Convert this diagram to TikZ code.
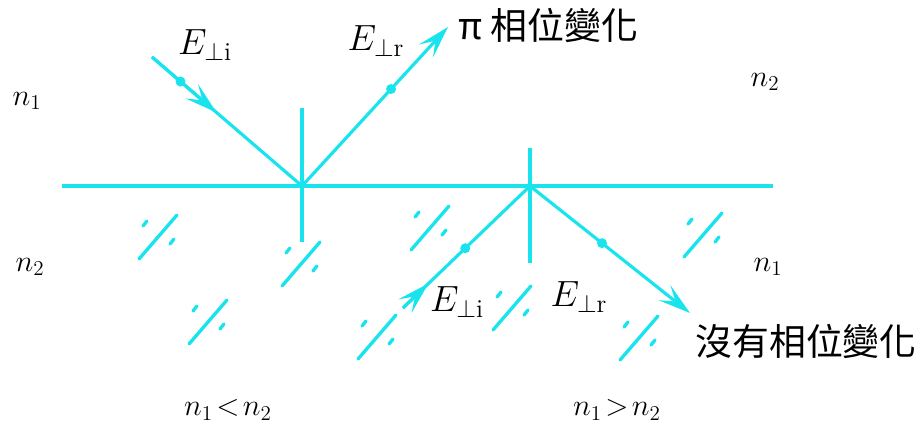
\documentclass[tikz,border=0pt]{standalone}
\usepackage{fontspec}
\newfontfamily\cjk{Noto Sans CJK TC}
\usetikzlibrary{arrows.meta, calc}
\definecolor{beam}{RGB}{25,228,238}

\begin{document}
\begin{tikzpicture}[
    x=0.02cm, y=-0.02cm,
    line/.style={draw=beam, line width=1.8pt},
    ray/.style={line, -{Stealth[length=6.5mm, width=3.8mm, inset=2.8mm]}},
    dot/.style={circle, fill=beam, inner sep=0pt, minimum size=2mm},
    glass/.style={draw=beam, line width=1.9pt, line cap=round},
    medium/.style={font=\fontsize{18.5}{20}\selectfont},
    field/.style={font=\fontsize{21}{24}\selectfont},
    note/.style={font=\cjk\fontsize{21}{24}\selectfont}
]
\useasboundingbox (0,0) rectangle (922,430);

% -------------------------
% 1. Interface and normals
% -------------------------
\coordinate (SurfL) at (62,186);
\coordinate (SurfR) at (773,186);
\coordinate (O1) at (302,186);
\coordinate (O2) at (530,186);
\coordinate (N1top) at (302,108); \coordinate (N1bot) at (302,242);
\coordinate (N2top) at (530,148); \coordinate (N2bot) at (530,263);
\draw[line] (SurfL) -- (SurfR);
\draw[line] (N1top) -- (N1bot);
\draw[line] (N2top) -- (N2bot);

% -------------------------
% 2. Glass marks (denser medium)
% -------------------------
\foreach \gx/\gy in {158/237, 301/264, 208/322, 430/228, 377/337, 512/308, 703/235, 639/338} {
    \draw[glass] (\gx-19,\gy+22) -- (\gx+19,\gy-22);
    \draw[glass] (\gx-15,\gy-11) -- (\gx-11,\gy-16);
    \draw[glass] (\gx+12,\gy+7) -- (\gx+16,\gy+2);
}

% -------------------------
% 3. Left case: n1 < n2
% -------------------------
\coordinate (A1) at (152,57);
\coordinate (B1) at (448,27);
\coordinate (I1tip) at ($(A1)!0.43!(O1)$);
\draw[line] (A1) -- (O1);
\draw[ray] (A1) -- (I1tip);
\node[dot] (Dot1) at ($(A1)!0.19!(O1)$) {};
\draw[ray] (O1) -- (B1);
\node[dot] (Dot2) at ($(O1)!0.61!(B1)$) {};

\node[field] (Ei1) at (205,45) {$E_{\perp\mathrm{i}}$};
\node[field] (Er1) at (376,41) {$E_{\perp\mathrm{r}}$};
\node[note] (Phase) at (548,25) {π 相位變化};

% -------------------------
% 4. Right case: n1 > n2
% -------------------------
\coordinate (A2) at (403,308);
\coordinate (B2) at (690,313);
\coordinate (I2tip) at ($(A2)!0.2!(O2)$);
\draw[line] (A2) -- (O2);
\draw[ray] (A2) -- (I2tip);
\node[dot] (Dot3) at ($(A2)!0.49!(O2)$) {};
\draw[ray] (O2) -- (B2);
\node[dot] (Dot4) at ($(O2)!0.45!(B2)$) {};

\node[field] (Ei2) at (457,302) {$E_{\perp\mathrm{i}}$};
\node[field] (Er2) at (579,297) {$E_{\perp\mathrm{r}}$};
\node[note] (NoPhase) at (806,341) {沒有相位變化};

% -------------------------
% 5. Media labels
% -------------------------
\node[medium] (LeftTop) at (27,101) {$n_1$};
\node[medium] (LeftBot) at (30,267) {$n_2$};
\node[medium] (RightTop) at (765,82) {$n_2$};
\node[medium] (RightBot) at (768,267) {$n_1$};
\node[medium] (CaseL) at (228,410) {$n_1\!<\!n_2$};
\node[medium] (CaseR) at (617,410) {$n_1\!>\!n_2$};

\end{tikzpicture}
\end{document}
